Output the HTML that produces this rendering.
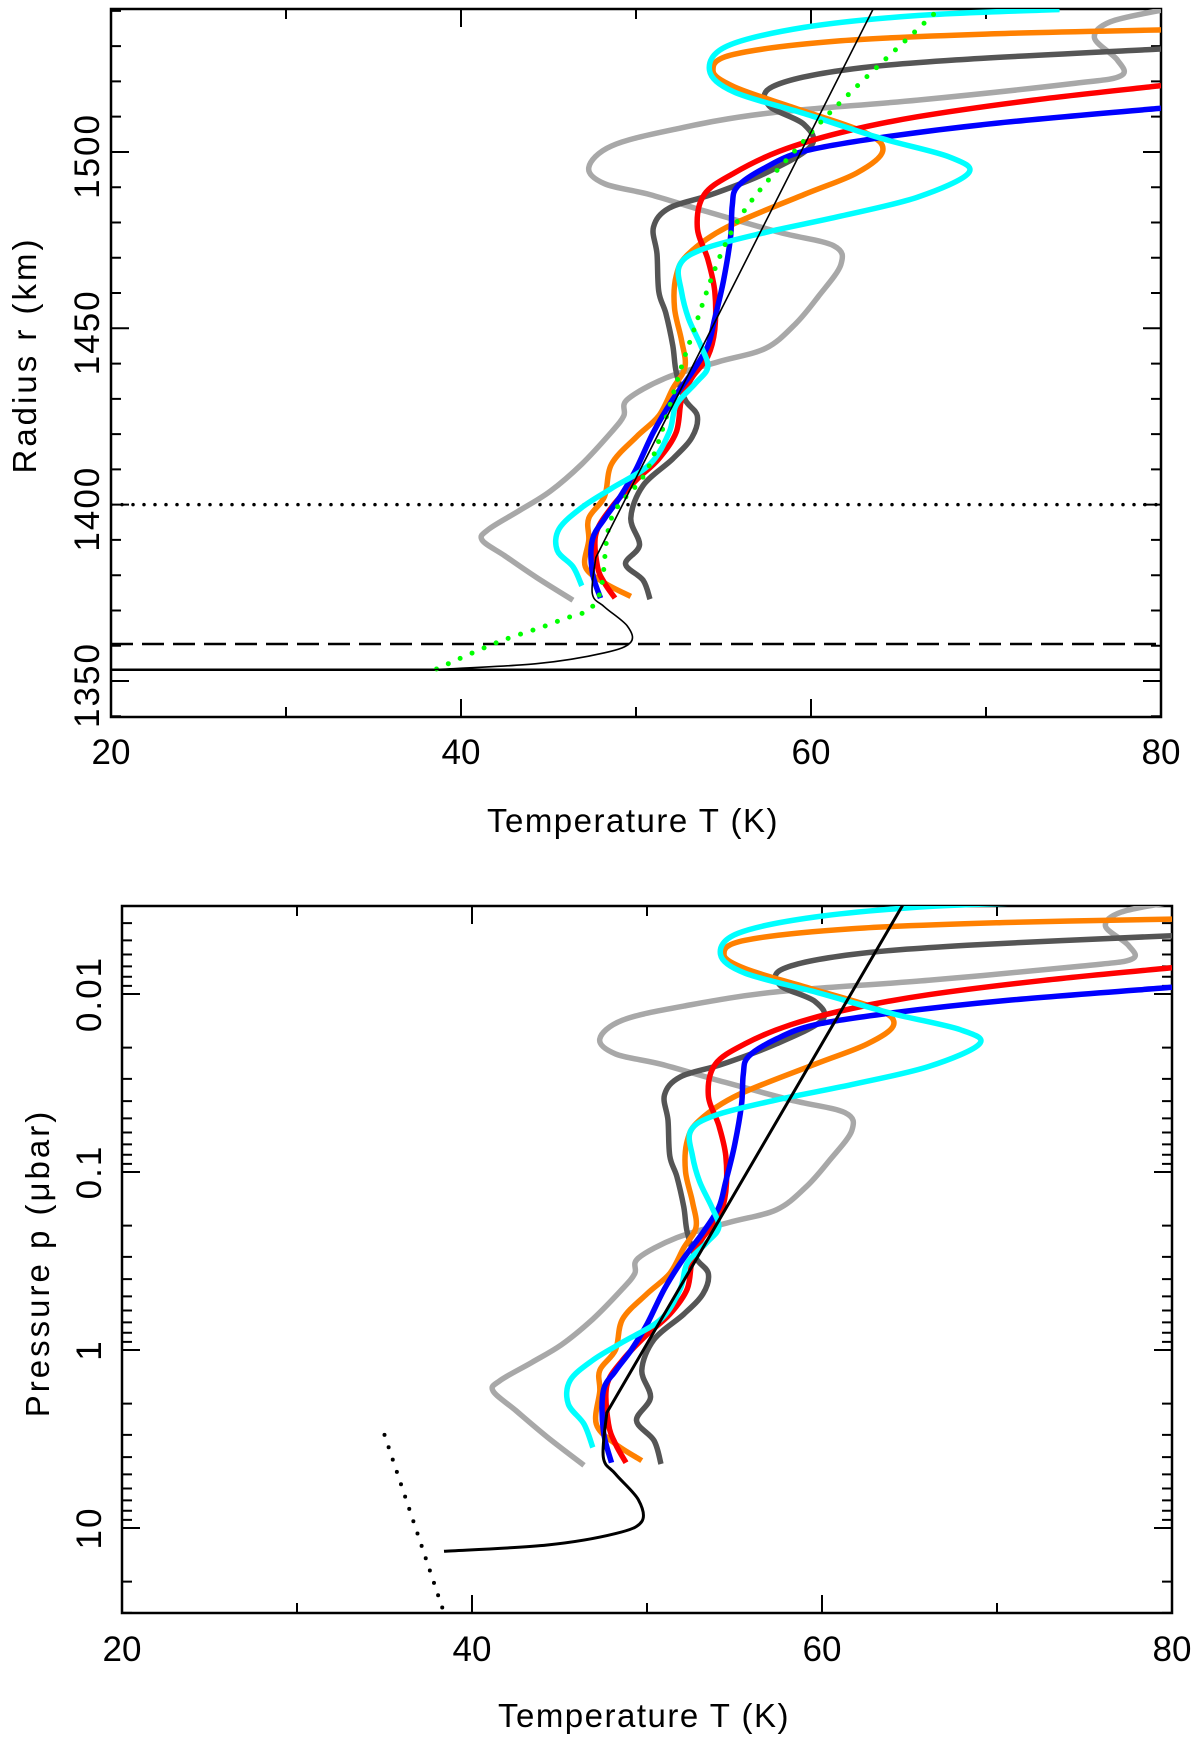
<!DOCTYPE html>
<html><head><meta charset="utf-8"><style>
html,body{margin:0;padding:0;background:#fff;}
svg text{font-family:"Liberation Sans",sans-serif;fill:#000;}
</style></head><body>
<svg id="fig" width="1200" height="1743" viewBox="0 0 1200 1743" xmlns="http://www.w3.org/2000/svg">
<defs>
<clipPath id="c1"><rect x="111" y="9" width="1050" height="708"/></clipPath>
<clipPath id="c2"><rect x="122" y="906" width="1050" height="707"/></clipPath>
</defs>
<g id="top"></g>
<g id="bot"></g>
</svg>
<script>
// ---- data (T in K, r in km) ----
const blueT=[47.97,47.5,47.5,48.2,49.1,50,51,52.1,53.2,54.1,54.5,55,55.4,55.5,55.8,57.4,59.6,63.9,70.5,80];
const blueR=[1373.5,1380.9,1390,1396,1402.3,1410,1420.6,1429.8,1437.5,1445,1452.8,1463.5,1475.7,1484.9,1490.2,1495.6,1500.2,1504,1508.1,1512.4];
const redT=[48.8,48.2,47.8,47.7,48.6,50,51.3,52.3,52.6,53.2,54.1,54.5,54.5,54.1,53.5,53.9,55.6,58.2,61.7,66.1,72.7,80];
const redR=[1373.5,1377.8,1382.4,1391.6,1399.2,1406.9,1413,1420.6,1429.8,1436,1442,1449.7,1460.4,1469.6,1478.7,1487.9,1494,1500.2,1505.5,1510,1514.7,1518.8];
const dgreyT=[50.8,50.4,49.4,50.2,49.7,50.4,52.1,53.2,53.5,52.8,52.3,52.1,51.7,51.3,51.2,51,51.9,54.3,57.4,60,59.6,57.6,57.8,61.7,68.3,80];
const dgreyR=[1373.2,1378.6,1383.2,1388.5,1396.2,1405.4,1413,1419.1,1425.2,1429.8,1437.5,1445.1,1454.3,1460.4,1471.1,1478.7,1484.1,1487.9,1494,1501.7,1507.8,1513.1,1518.5,1523.1,1526.1,1529.2];
const orangeT=[49.7,48.2,47.1,47.3,47.3,48.2,48.6,50,51.3,52.1,52.8,52.6,52.2,52.3,53,55.2,59.6,62.6,64.1,63.1,59.1,55.6,54.4,55.6,61.7,70.5,80];
const orangeR=[1374,1377.8,1382.4,1390,1396.2,1402.3,1411.5,1419.1,1425.2,1432.9,1439,1446.6,1455.8,1465,1471.1,1478.7,1487.9,1494,1500.2,1505.5,1512.4,1518.5,1523.1,1527.7,1531.5,1533.5,1534.6];
const cyanT=[46.9,46.4,45.5,45.6,46.9,48.6,50.8,51.9,52.3,53.4,54.1,53.7,53,52.6,52.5,53.9,57.4,61.7,66.1,69,67.9,63.9,59.6,55.6,54.2,55.2,59.6,66.1,74.2];
const cyanR=[1377,1382.4,1387,1393.1,1399.2,1404.6,1411.5,1420.6,1428.3,1434.4,1439,1445.1,1452.8,1460.4,1468,1472.6,1477.2,1481.8,1487.2,1494,1498.6,1504,1510.9,1517,1523.1,1530,1535.3,1538.7,1540.4];
const lgreyT=[46.4,44.3,42.5,41.2,41.6,43.4,45.1,46.9,48.6,49.3,49.5,51.7,54.7,57.4,59.1,60.4,61.7,61.3,58.2,53.9,50.8,48.2,47.3,48.6,52.1,57.4,66.1,74.8,77.7,77.5,76.2,77.1,80];
const lgreyR=[1372.9,1379.4,1385.5,1390,1393.1,1398.5,1403.8,1411.5,1420.6,1425.2,1429.8,1435.9,1440.5,1444.3,1451.2,1458.9,1468,1473.4,1477.2,1483.3,1487.9,1491,1495.6,1501.7,1506.3,1510.9,1514.7,1519.3,1521.6,1526.1,1532.3,1536.9,1540.2];
const greenT=[38.6,42.1,45.6,47.8,48.6,50.8,53,55.6,59.6,62.6,67.2];
const greenR=[1353.4,1361,1367.1,1373.2,1396.2,1411.5,1445.1,1478.7,1503.2,1518.5,1539.9];
const blackT=[38.4,44.3,48.2,49.7,49.5,48.2,47.5,47.7,63.6];
const blackR=[1353.2,1354.9,1358,1361,1365.6,1371,1374.8,1385,1541];
// radius -> log10 pressure (microbar) correspondence
const mapR=[1353,1360,1372,1390,1494,1545];
const mapLogP=[1.135,0.99,0.67,0.23,-1.72,-2.6];
// bottom-panel extra dotted line (T, p)
const dotT=[35,38.3];
const dotP=[3.0,28];
// horizontal reference levels (km)
const levelDotted=1400, levelDashed=1360.5, levelSolid=1353.2;
const xTicks=[20,40,60,80];
const yTicksTop=[1350,1400,1450,1500];
const yTicksBot=[0.01,0.1,1,10];
const yTickLabelsBot=["0.01","0.1","1","10"];

const NS="http://www.w3.org/2000/svg";
function mk(tag,attrs,parent){const e=document.createElementNS(NS,tag);for(const k in attrs)e.setAttribute(k,attrs[k]);parent.appendChild(e);return e;}
const xT1=T=>111+(T-20)*17.5, yR=r=>681-(r-1350)*3.527;
const xT2=T=>122+(T-20)*17.5, yLP=lp=>1350+lp*178;
function r2lp(r){for(let i=0;i<mapR.length-1;i++){if(r<=mapR[i+1]||i==mapR.length-2){const f=(r-mapR[i])/(mapR[i+1]-mapR[i]);return mapLogP[i]+f*(mapLogP[i+1]-mapLogP[i]);}}}
function smooth(pts){if(pts.length<3)return "M"+pts.map(p=>p.join(",")).join("L");let d="M"+pts[0][0].toFixed(1)+","+pts[0][1].toFixed(1);
for(let i=0;i<pts.length-1;i++){const p0=pts[Math.max(i-1,0)],p1=pts[i],p2=pts[i+1],p3=pts[Math.min(i+2,pts.length-1)];
const c1=[p1[0]+(p2[0]-p0[0])/6,p1[1]+(p2[1]-p0[1])/6],c2=[p2[0]-(p3[0]-p1[0])/6,p2[1]-(p3[1]-p1[1])/6];
d+="C"+c1.map(v=>v.toFixed(1)).join(",")+" "+c2.map(v=>v.toFixed(1)).join(",")+" "+p2.map(v=>v.toFixed(1)).join(",");}return d;}

const series=[
 ["light-grey-profile",lgreyT,lgreyR,"#a8a8a8",5.5],
 ["dark-grey-profile",dgreyT,dgreyR,"#555555",5.5],
 ["orange-profile",orangeT,orangeR,"#ff8000",5.5],
 ["red-profile",redT,redR,"#ff0000",5.5],
 ["blue-profile",blueT,blueR,"#0000ff",5.5],
 ["cyan-profile",cyanT,cyanR,"#00ffff",5.5]
];

function frame(g,L,T,W,H){const f=mk("rect",{x:L,y:T,width:W,height:H,fill:"none",stroke:"#000","stroke-width":2.5},g);

}

// ---------- TOP PANEL ----------
const gt=document.getElementById("top");
frame(gt,111,9,1050,708);
for(let T=20;T<=80;T+=10){const L=(T%20==0)?18:10;
 const t=mk("path",{d:`M${xT1(T)},717v${-L}M${xT1(T)},9v${L}`,stroke:"#000","stroke-width":2},gt);
 
 }
for(let r=1340;r<=1540;r+=10){const L=(r%50==0)?18:10;
 const t=mk("path",{d:`M111,${yR(r)}h${L}M1161,${yR(r)}h${-L}`,stroke:"#000","stroke-width":2},gt);
 
 }
xTicks.forEach(T=>{const t=mk("text",{x:xT1(T),y:764,"font-size":35,"text-anchor":"middle"},gt);t.textContent=T;
 
 });
yTicksTop.forEach(r=>{const y=yR(r)+4;const t=mk("text",{x:0,y:0,"font-size":35,"text-anchor":"middle","letter-spacing":2,transform:`translate(99,${y}) rotate(-90)`},gt);t.textContent=r;
 
 });
let lab=mk("text",{x:633,y:832,"font-size":33,"text-anchor":"middle","letter-spacing":1.5},gt);lab.textContent="Temperature T (K)";


lab=mk("text",{x:0,y:0,"font-size":33,"text-anchor":"middle","letter-spacing":3,transform:"translate(36,355) rotate(-90)"},gt);lab.textContent="Radius r (km)";


const ct=mk("g",{"clip-path":"url(#c1)"},gt);
let ln=mk("line",{x1:111,x2:1161,y1:yR(levelDotted),y2:yR(levelDotted),stroke:"#000","stroke-width":3.5,"stroke-dasharray":"0 11","stroke-linecap":"round"},ct);


ln=mk("line",{x1:111,x2:1161,y1:yR(levelDashed),y2:yR(levelDashed),stroke:"#000","stroke-width":2.5,"stroke-dasharray":"22 9"},ct);


ln=mk("line",{x1:111,x2:1161,y1:yR(levelSolid),y2:yR(levelSolid),stroke:"#000","stroke-width":2.5},ct);


series.forEach(s=>{const p=mk("path",{d:smooth(s[1].map((T,i)=>[xT1(T),yR(s[2][i])])),fill:"none",stroke:s[3],"stroke-width":s[4],"stroke-linejoin":"round"},ct);
 
 });
let gp=mk("path",{d:smooth(greenT.map((T,i)=>[xT1(T),yR(greenR[i])])),fill:"none",stroke:"#00ff00","stroke-width":5,"stroke-dasharray":"0 13","stroke-linecap":"round"},ct);


let bp=mk("path",{d:smooth(blackT.slice(0,-1).map((T,i)=>[xT1(T),yR(blackR[i])]))+`L${xT1(blackT[8])},${yR(blackR[8])}`,fill:"none",stroke:"#000","stroke-width":1.6},ct);



// ---------- BOTTOM PANEL ----------
const gb=document.getElementById("bot");
frame(gb,122,906,1050,707);
for(let T=20;T<=80;T+=10){const L=(T%20==0)?18:10;
 const t=mk("path",{d:`M${xT2(T)},1613v${-L}M${xT2(T)},906v${L}`,stroke:"#000","stroke-width":2},gb);
 
 }
for(let d=-3;d<=1;d++)for(let k=1;k<=9;k++){const lp=d+Math.log10(k);const y=yLP(lp);if(y<906||y>1613)continue;const L=k==1?18:10;
 const t=mk("path",{d:`M122,${y}h${L}M1172,${y}h${-L}`,stroke:"#000","stroke-width":2},gb);
 
 }
xTicks.forEach(T=>{const t=mk("text",{x:xT2(T),y:1661,"font-size":35,"text-anchor":"middle"},gb);t.textContent=T;
 
 });
yTicksBot.forEach((p,i)=>{const y=yLP(Math.log10(p));const t=mk("text",{x:0,y:0,"font-size":35,"text-anchor":"middle","letter-spacing":2,transform:`translate(101,${y}) rotate(-90)`},gb);t.textContent=yTickLabelsBot[i];
 
 });
lab=mk("text",{x:644,y:1727,"font-size":33,"text-anchor":"middle","letter-spacing":1.5},gb);lab.textContent="Temperature T (K)";


lab=mk("text",{x:0,y:0,"font-size":33,"text-anchor":"middle","letter-spacing":3,transform:"translate(49,1263) rotate(-90)"},gb);lab.textContent="Pressure p (μbar)";


const cb=mk("g",{"clip-path":"url(#c2)"},gb);
series.forEach(s=>{const p=mk("path",{d:smooth(s[1].map((T,i)=>[xT2(T),yLP(r2lp(s[2][i]))])),fill:"none",stroke:s[3],"stroke-width":s[4],"stroke-linejoin":"round"},cb);
 
 });
bp=mk("path",{d:smooth(blackT.slice(0,-1).map((T,i)=>[xT2(T),yLP(r2lp(blackR[i]))]))+`L${xT2(blackT[8]+1.2)},${yLP(r2lp(blackR[8]))}`,fill:"none",stroke:"#000","stroke-width":3},cb);


let dp=mk("line",{x1:xT2(dotT[0]),y1:yLP(Math.log10(dotP[0])),x2:xT2(dotT[1]),y2:yLP(Math.log10(dotP[1])),stroke:"#000","stroke-width":4,"stroke-dasharray":"0 13","stroke-linecap":"round"},cb);


</script>
</body></html>
